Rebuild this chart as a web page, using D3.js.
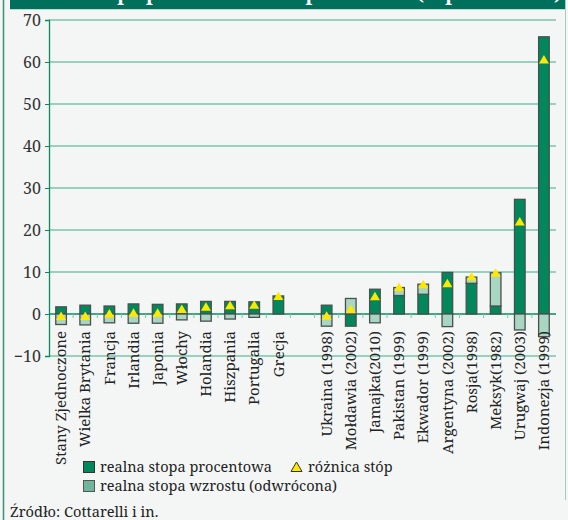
<!DOCTYPE html>
<html lang="pl">
<head>
  <meta charset="UTF-8">
  <title>Realna stopa procentowa i wzrostu</title>
  <script src="https://d3js.org/d3.v7.min.js"></script>
  <style>
    body { margin: 0; padding: 0; background: #f3f6f5; }
    svg { display: block; }
  </style>
</head>
<body>
  <svg width="568" height="520"></svg>
  <script>
    // dane
    const advanced = ["Stany Zjednoczone", "Wielka Brytania", "Francja", "Irlandia", "Japonia",
      "Włochy", "Holandia", "Hiszpania", "Portugalia", "Grecja"];
    const emerging = ["Ukraina (1998)", "Mołdawia (2002)", "Jamajka(2010)", "Pakistan (1999)",
      "Ekwador (1999)", "Argentyna (2002)", "Rosja(1998)", "Meksyk(1982)", "Urugwaj (2003)", "Indonezja (1999)"];
    const realRate = [1.7, 2.1, 1.9, 2.4, 2.3, 2.4, 3.0, 3.0, 2.9, 4.3,
      2.1, -2.9, 5.9, 4.4, 4.7, 9.9, 7.3, 1.9, 27.3, 66.0];
    const growthInv = [-2.5, -2.6, -2.1, -2.2, -2.2, -1.4, -1.7, -1.2, -0.8, 0,
      -2.9, 3.7, -2.1, 1.9, 2.4, -3.0, 1.5, 7.9, -3.8, -5.4];
    const rateDiff = [-0.5, -0.5, 0.1, 0.3, 0.3, 1.2, 1.7, 2.1, 2.2, 4.3,
      -0.4, 1.2, 4.2, 6.4, 7.1, 7.3, 8.9, 9.8, 22.0, 60.6];
    const yTicks = [-10, 0, 10, 20, 30, 40, 50, 60, 70];

    const GREEN = "#00885c", LIGHT = "#a9d5c3", GRID = "#3fae89", AXIS = "#0a8a5e";
    const FONT = "Noto Serif, Liberation Serif, serif";

    const svg = d3.select("svg");
    const countries = advanced.concat(emerging);
    const data = countries.map((c, i) => ({ c, r: realRate[i], g: growthInv[i], d: rateDiff[i] }));

    // ramka i pasek tytułu (tytuł ucięty u góry, jak w oryginale)
    svg.append("rect").attr("x", 10).attr("y", 0).attr("width", 556).attr("height", 9).attr("fill", "#006f5c");
    svg.append("text").attr("x", 562).attr("y", 0).attr("text-anchor", "end")
      .attr("font-family", FONT).attr("fill", "#fff").attr("font-size", 19).attr("font-weight", "bold")
      .text("Realna stopa procentowa i stopa wzrostu (w procentach)");
    svg.append("line").attr("x1", 10).attr("x2", 566).attr("y1", 9.5).attr("y2", 9.5).attr("stroke", "#b9ddd0");
    svg.append("line").attr("x1", 3.5).attr("x2", 3.5).attr("y1", 0).attr("y2", 520).attr("stroke", "#3d8f78").attr("stroke-width", 1.5);
    svg.append("line").attr("x1", 565.5).attr("x2", 565.5).attr("y1", 0).attr("y2", 500).attr("stroke", "#9fcfbf");

    const x = d3.scaleBand()
      .domain(advanced.concat([""], emerging))
      .range([49, 556])
      .paddingInner(0.56)
      .paddingOuter(0.28);
    const y = d3.scaleLinear().domain([-10, 70]).range([356, 20]);

    // siatka
    const grid = svg.append("g");
    grid.selectAll("line").data(yTicks).join("line")
      .attr("x1", 49).attr("x2", 556)
      .attr("y1", d => y(d)).attr("y2", d => y(d))
      .attr("stroke", d => d === 0 ? AXIS : GRID)
      .attr("stroke-width", d => d === 0 ? 1.6 : 1.2);

    // oś Y
    const yAxis = svg.append("g").attr("transform", "translate(49,0)")
      .call(d3.axisLeft(y).tickValues(yTicks).tickSize(4).tickPadding(4));
    yAxis.attr("font-family", FONT);
    yAxis.select(".domain").attr("stroke", AXIS).attr("stroke-width", 1.3);
    yAxis.selectAll(".tick line").attr("stroke", AXIS);
    yAxis.selectAll(".tick text").attr("font-family", FONT).attr("font-size", 16).attr("fill", "#333");

    // kreski między kategoriami
    const step = x.step();
    const bounds = d3.range(1, x.domain().length).map(i => 49 + i * step);
    svg.append("g").selectAll("line").data(bounds).join("line")
      .attr("x1", d => d).attr("x2", d => d)
      .attr("y1", y(0)).attr("y2", y(0) + 4)
      .attr("stroke", "#7cc7ac");

    // słupki
    const bw = x.bandwidth();
    const bars = svg.append("g");
    data.forEach(d => {
      const x0 = x(d.c);
      const segs = [];
      if (d.r >= 0 && d.g >= 0) {
        segs.push({ a: 0, b: d.r, f: GREEN }, { a: d.r, b: d.r + d.g, f: LIGHT });
      } else {
        segs.push({ a: 0, b: d.r, f: GREEN }, { a: 0, b: d.g, f: LIGHT });
      }
      segs.filter(s => s.a !== s.b).forEach(s => {
        bars.append("rect")
          .attr("x", x0).attr("width", bw)
          .attr("y", y(Math.max(s.a, s.b)))
          .attr("height", Math.abs(y(s.a) - y(s.b)))
          .attr("fill", s.f)
          .attr("stroke", "#4a4f4d").attr("stroke-width", 1.3);
      });
    });

    // trójkąty – różnica stóp
    const tri = (cx, cy) => `M${cx},${cy - 4.5}L${cx + 5},${cy + 4}L${cx - 5},${cy + 4}Z`;
    svg.append("g").selectAll("path").data(data).join("path")
      .attr("d", d => tri(x(d.c) + bw / 2, y(d.d)))
      .attr("fill", "#ffe800");

    // etykiety krajów
    svg.append("g").selectAll("text").data(countries).join("text")
      .attr("transform", d => `translate(${x(d) + bw / 2},331) rotate(-90)`)
      .attr("dy", "0.35em")
      .attr("text-anchor", "end")
      .attr("font-family", FONT)
      .attr("font-size", 15)
      .attr("fill", "#222")
      .text(d => d);

    // legenda
    const leg = svg.append("g");
    leg.append("rect").attr("x", 83.5).attr("y", 461.5).attr("width", 11).attr("height", 11)
      .attr("fill", GREEN).attr("stroke", "#333");
    leg.append("path").attr("d", "M296.5,462L302,471.5L291,471.5Z").attr("fill", "#ffe800").attr("stroke", "#333");
    leg.append("rect").attr("x", 83.5).attr("y", 480.5).attr("width", 11).attr("height", 11)
      .attr("fill", "#6fb79c").attr("stroke", "#555");
    const legTexts = [
      { x: 100, y: 472, t: "realna stopa procentowa" },
      { x: 308, y: 472, t: "różnica stóp" },
      { x: 100, y: 491, t: "realna stopa wzrostu (odwrócona)" }
    ];
    leg.selectAll("text").data(legTexts).join("text")
      .attr("x", d => d.x).attr("y", d => d.y)
      .attr("font-family", FONT).attr("font-size", 14.5).attr("fill", "#222")
      .text(d => d.t);

    svg.append("text").attr("x", 10).attr("y", 517)
      .attr("font-family", FONT).attr("font-size", 14.6).attr("fill", "#222")
      .text("Źródło: Cottarelli i in.");
  </script>
</body>
</html>
